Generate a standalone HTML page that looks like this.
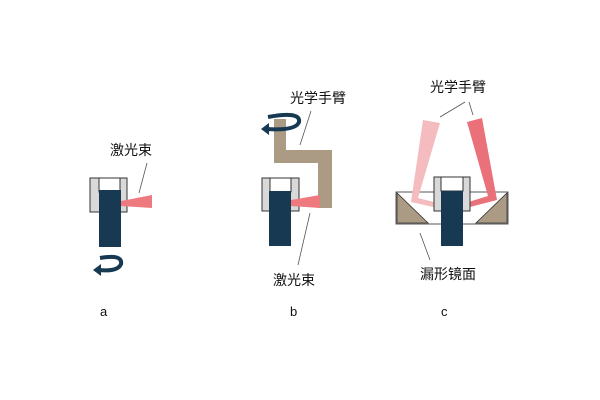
<!DOCTYPE html>
<html><head><meta charset="utf-8"><style>
html,body{margin:0;padding:0;background:#fff;width:600px;height:400px;overflow:hidden}
text{font-family:"Liberation Sans","Noto Sans CJK SC",sans-serif;font-size:14px;fill:#111}
</style></head><body>
<svg width="600" height="400" viewBox="0 0 600 400">
<!-- Panel a -->
<rect x="90" y="178" width="37" height="34" fill="#d9d9d9" stroke="#333" stroke-width="1"/>
<rect x="99" y="178" width="21" height="14" fill="#fff" stroke="#333" stroke-width="1"/>
<rect x="99" y="190" width="22" height="57" fill="#173a52"/>
<polygon points="121,201 152,195 152,208 121,206" fill="#ee7a80"/>
<line x1="147" y1="163" x2="139" y2="193" stroke="#555" stroke-width="0.8"/>
<text x="110" y="155">激光束</text>
<path d="M100,258 Q123,254 121,264 Q118,272 98,270" fill="none" stroke="#173a52" stroke-width="4"/>
<polygon points="93,270 101,264 101,276" fill="#173a52"/>
<text x="100" y="316" style="font-size:13px">a</text>
<!-- Panel b -->
<path d="M274,119 H286 V150 H332 V208 H318 V163 H274 Z" fill="#ab9b85"/>
<path d="M268,117 Q301,111 299,122 Q296,131 266,129" fill="none" stroke="#173a52" stroke-width="4"/>
<polygon points="261,129 269,123 269,135" fill="#173a52"/>
<rect x="262" y="178" width="37" height="33" fill="#d9d9d9" stroke="#333" stroke-width="1"/>
<rect x="270" y="178" width="21" height="14" fill="#fff" stroke="#333" stroke-width="1"/>
<rect x="269" y="191" width="22" height="55" fill="#173a52"/>
<polygon points="291,200 320,195 320,208 291,206" fill="#ee7a80"/>
<line x1="311" y1="111" x2="300" y2="145" stroke="#555" stroke-width="0.8"/>
<line x1="310" y1="213" x2="298" y2="265" stroke="#555" stroke-width="0.8"/>
<text x="290" y="103">光学手臂</text>
<text x="273" y="285">激光束</text>
<text x="290" y="316" style="font-size:13px">b</text>
<!-- Panel c -->
<rect x="396" y="192" width="112" height="32" fill="#fff" stroke="#555" stroke-width="1"/>
<polygon points="397,193 397,223 428,223" fill="#ab9b85" stroke="#333" stroke-width="0.8"/>
<polygon points="507,193 507,223 476,223" fill="#ab9b85" stroke="#333" stroke-width="0.8"/>
<polygon points="423,120 440,123 418,198 442,204 442,209 411,202" fill="#f5bcc0"/>
<polygon points="467,122 482,118 497,200 462,209 462,204 488,196" fill="#ea7079"/>
<rect x="434" y="177" width="36" height="34" fill="#d9d9d9" stroke="#333" stroke-width="1"/>
<rect x="441" y="177" width="22" height="14" fill="#fff" stroke="#333" stroke-width="1"/>
<rect x="441" y="191" width="22" height="55" fill="#173a52"/>
<line x1="440" y1="117" x2="465" y2="102" stroke="#555" stroke-width="0.8"/>
<line x1="469" y1="102" x2="473" y2="115" stroke="#555" stroke-width="0.8"/>
<line x1="420" y1="233" x2="430" y2="260" stroke="#555" stroke-width="0.8"/>
<text x="430" y="92">光学手臂</text>
<text x="420" y="279">漏形镜面</text>
<text x="441" y="316" style="font-size:13px">c</text>
</svg>
</body></html>
